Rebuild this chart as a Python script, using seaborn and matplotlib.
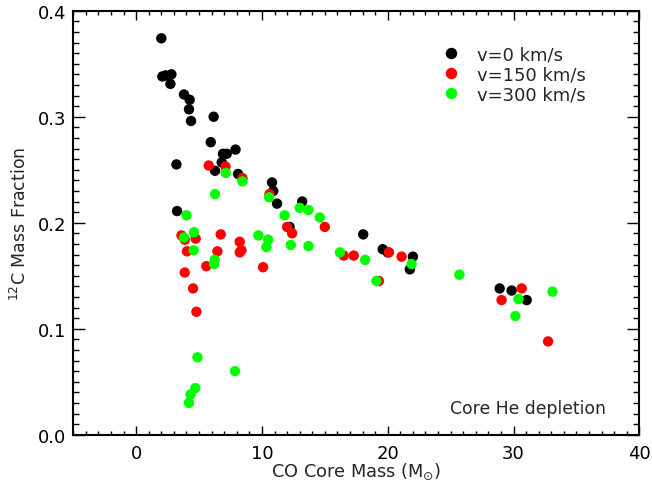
import pandas as pd
import numpy as np
import matplotlib
matplotlib.use('Agg')
import matplotlib.pyplot as plt
import seaborn as sns
from matplotlib.ticker import MultipleLocator, FormatStrFormatter

# v = 0 km/s
mass_v0 = [2.0, 2.08, 2.35, 2.8, 2.72, 3.8, 4.25, 4.2, 4.36, 6.16, 5.93, 6.9, 7.2, 7.9,
           6.8, 6.27, 8.1, 3.2, 3.25, 10.8, 10.9, 11.2, 13.2, 12.2, 18.05, 19.6, 20.0,
           22.0, 21.76, 28.9, 29.85, 31.05]
c12_v0 = [0.374, 0.338, 0.339, 0.340, 0.331, 0.321, 0.316, 0.307, 0.296, 0.300, 0.276,
          0.265, 0.265, 0.269, 0.257, 0.249, 0.246, 0.255, 0.211, 0.238, 0.230, 0.218,
          0.220, 0.196, 0.189, 0.175, 0.172, 0.168, 0.156, 0.138, 0.136, 0.127]

# v = 150 km/s
mass_v150 = [5.77, 7.1, 8.45, 10.6, 12.0, 12.4, 3.6, 4.73, 3.86, 6.72, 8.23, 4.04, 6.46,
             8.37, 8.23, 5.58, 10.09, 3.86, 4.52, 4.79, 15.0, 16.5, 17.3, 19.3, 21.1,
             20.1, 30.65, 29.05, 32.75]
c12_v150 = [0.254, 0.253, 0.242, 0.227, 0.196, 0.190, 0.188, 0.185, 0.184, 0.189, 0.182,
            0.173, 0.173, 0.174, 0.172, 0.159, 0.158, 0.153, 0.138, 0.116, 0.196, 0.169,
            0.169, 0.145, 0.168, 0.172, 0.138, 0.127, 0.088]

# v = 300 km/s
mass_v300 = [7.12, 8.45, 6.27, 10.57, 11.8, 13.0, 4.0, 4.6, 3.8, 9.72, 10.5, 12.3, 4.57,
             6.24, 6.19, 10.35, 13.7, 14.6, 13.7, 4.87, 7.86, 4.7, 4.33, 4.2, 16.2, 18.2,
             19.1, 21.9, 25.7, 30.4, 30.15, 33.1]
c12_v300 = [0.247, 0.239, 0.227, 0.224, 0.207, 0.214, 0.207, 0.191, 0.186, 0.188, 0.184,
            0.179, 0.174, 0.165, 0.161, 0.177, 0.212, 0.205, 0.178, 0.073, 0.060, 0.044,
            0.038, 0.030, 0.172, 0.165, 0.145, 0.161, 0.151, 0.128, 0.112, 0.135]

labels = ['v=0 km/s', 'v=150 km/s', 'v=300 km/s']
colors = ['#000000', '#ff0000', '#00ff00']

df = pd.concat([
    pd.DataFrame({'mass': mass_v0, 'c12': c12_v0, 'rot': labels[0]}),
    pd.DataFrame({'mass': mass_v150, 'c12': c12_v150, 'rot': labels[1]}),
    pd.DataFrame({'mass': mass_v300, 'c12': c12_v300, 'rot': labels[2]}),
], ignore_index=True)

sns.set_theme(style='ticks', rc={
    'xtick.direction': 'in', 'ytick.direction': 'in',
    'xtick.top': True, 'ytick.right': True,
    'xtick.minor.visible': True, 'ytick.minor.visible': True,
    'xtick.major.size': 6.5, 'xtick.minor.size': 3,
    'ytick.major.size': 8.5, 'ytick.minor.size': 4,
    'xtick.major.width': 1.0, 'xtick.minor.width': 1.0,
    'ytick.major.width': 1.0, 'ytick.minor.width': 1.0,
    'xtick.color': 'black', 'ytick.color': 'black',
    'axes.edgecolor': 'black', 'axes.linewidth': 1.5,
})
plt.rcParams['font.family'] = ['DejaVu Sans']

fig = plt.figure(figsize=(6.52, 4.89), dpi=100)
ax = fig.add_axes([0.1124, 0.109, 0.9805 - 0.1124, 0.976 - 0.109])

sns.scatterplot(data=df, x='mass', y='c12', hue='rot', hue_order=labels,
                palette=dict(zip(labels, colors)), s=56, linewidth=0, alpha=1, ax=ax)

ax.set_xlim(-5, 40)
ax.set_ylim(0, 0.4)
ax.xaxis.set_major_locator(MultipleLocator(10))
ax.xaxis.set_minor_locator(MultipleLocator(1))
ax.yaxis.set_major_locator(MultipleLocator(0.1))
ax.yaxis.set_minor_locator(MultipleLocator(0.01))
ax.yaxis.set_major_formatter(FormatStrFormatter('%.1f'))

ax.tick_params(axis='both', which='both', top=True, right=True, labelsize=13)
ax.tick_params(axis='x', which='major', pad=7)
ax.tick_params(axis='y', which='major', pad=5)

ax.set_xlabel(r'CO Core Mass (M$_{\odot}$)', fontsize=12.8, labelpad=-1)
ax.set_ylabel(r'$^{12}$C Mass Fraction', fontsize=12.5, labelpad=6)

ax.text(0.941, 0.063, 'Core He depletion', transform=ax.transAxes,
        ha='right', va='center', fontsize=12.4)

sns.move_legend(ax, loc='upper left', bbox_to_anchor=(0.653, 0.918), frameon=False,
                title=None, fontsize=13, handlelength=0.9, handletextpad=1.0,
                labelspacing=0.1, borderpad=0, borderaxespad=0, markerscale=1.1)

fig.savefig('out.png', dpi=100)
